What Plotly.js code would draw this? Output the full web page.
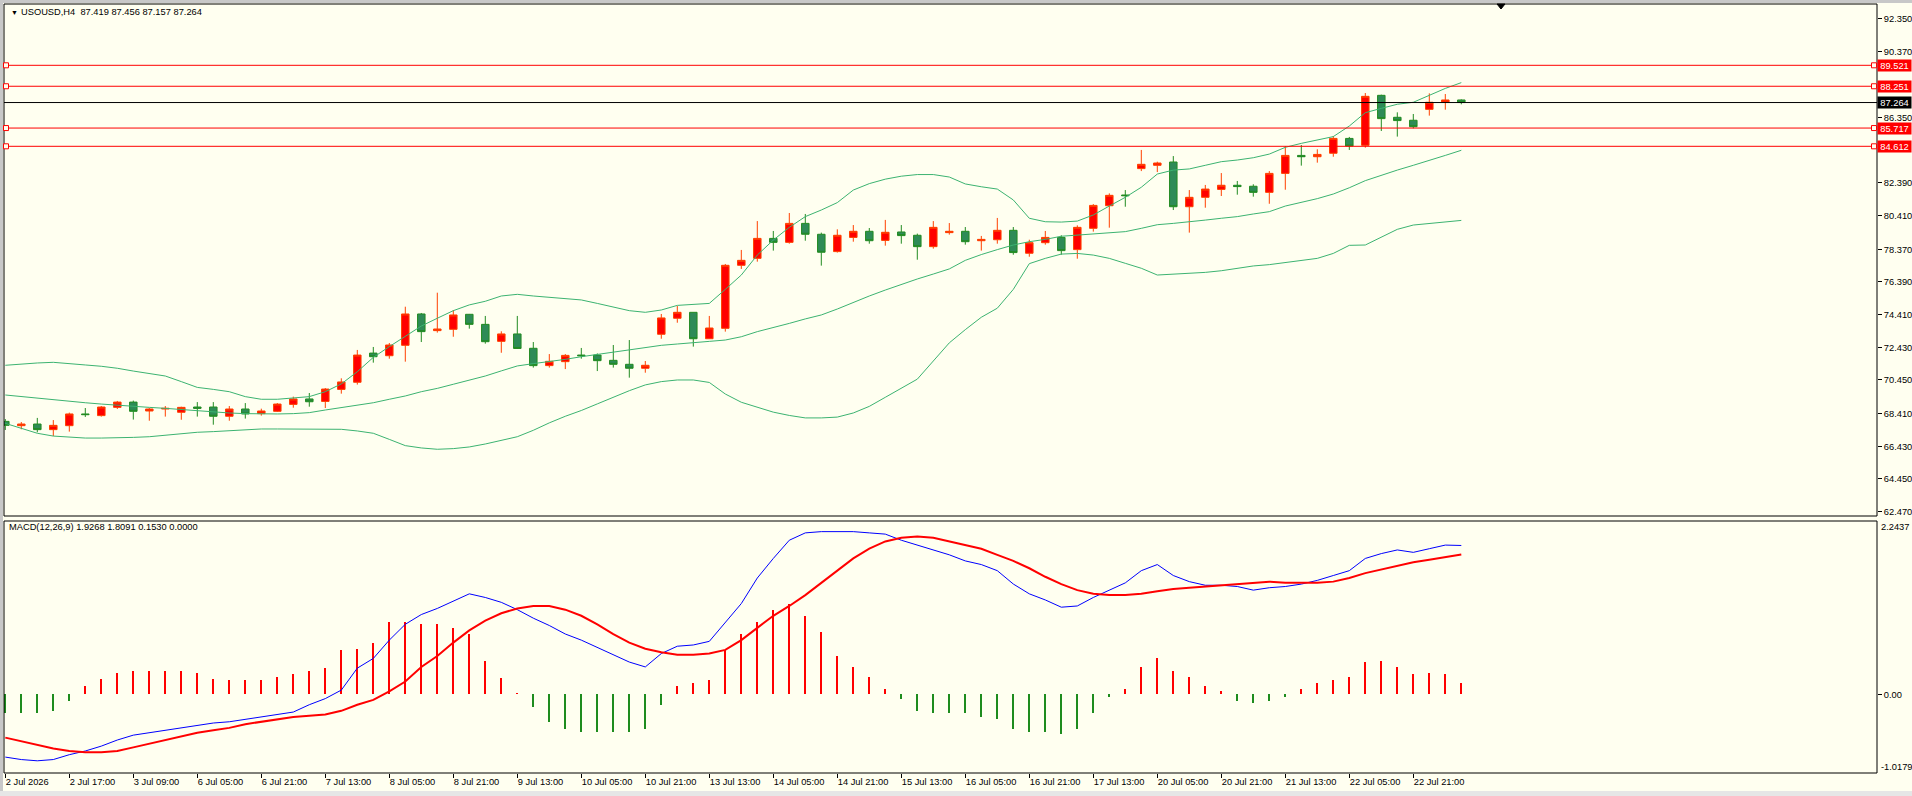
<!DOCTYPE html>
<html>
<head>
<meta charset="utf-8">
<script src="https://cdn.plot.ly/plotly-3.0.1.min.js"></script>
<style>
  html, body { margin: 0; padding: 0; background: #FFFFF0; }
  #chart { width: 1912px; height: 796px; }
</style>
</head>
<body>
<div id="chart"></div>
<script>
// ---- USOUSD H4 quotes (bar 0 = 2 Jul 2026 01:00) ----
const symbolTitle = 'USOUSD,H4';
const lastQuote = ['87.419', '87.456', '87.157', '87.264'];

const openP = [
  67.94,67.68,67.78,67.44,67.68,68.39,68.29,68.79,69.11,68.57,
  68.69,68.49,68.81,68.81,68.25,68.69,68.41,68.55,68.97,69.30,
  69.15,69.88,70.31,72.08,71.92,72.55,74.45,73.44,73.52,74.43,
  73.82,72.79,73.24,72.37,71.32,71.56,71.96,71.96,71.64,71.40,
  71.16,73.22,74.19,74.55,72.95,73.58,77.40,77.82,79.03,78.79,
  79.94,79.28,78.23,79.09,79.46,78.91,79.42,79.22,78.53,79.38,
  79.46,78.89,78.95,79.52,78.13,78.77,79.09,78.35,79.64,81.01,
  81.66,83.26,83.46,83.66,80.95,81.52,82.00,82.25,82.19,81.82,
  82.97,84.06,83.98,84.19,85.09,84.67,87.70,86.37,86.19,86.85,
  87.28,87.419
];
const highP = [
  68.08,67.90,68.15,68.02,68.47,68.75,68.87,69.18,69.20,68.75,
  68.87,68.83,69.11,69.11,68.87,69.05,68.71,69.05,69.44,69.66,
  69.96,70.55,72.27,72.45,72.69,74.89,74.51,75.74,74.69,74.45,
  74.33,73.40,74.33,72.75,72.02,72.02,72.39,72.06,72.57,72.87,
  71.60,74.45,74.93,74.55,74.33,77.48,78.33,80.08,79.48,80.57,
  80.51,79.38,79.58,79.84,79.66,80.15,79.84,79.32,80.08,79.96,
  79.72,79.18,80.27,79.72,78.95,79.48,79.22,79.82,81.11,81.76,
  81.96,84.39,83.68,84.02,81.96,82.27,82.99,82.51,82.31,83.11,
  84.63,84.69,84.43,85.24,85.18,87.84,87.74,86.67,86.57,87.82,
  87.78,87.456
];
const lowP = [
  67.42,67.46,67.28,67.05,67.32,68.21,68.23,68.69,68.05,67.98,
  68.23,68.04,68.23,67.74,67.98,68.11,68.29,68.51,68.77,68.83,
  68.75,69.62,70.17,71.50,71.74,71.56,72.75,73.32,73.07,73.56,
  72.65,72.10,72.33,71.20,71.20,71.11,71.74,70.99,71.20,70.59,
  70.89,72.95,73.92,72.47,72.95,73.38,77.18,77.62,78.29,78.71,
  78.89,77.38,78.17,78.83,78.71,78.59,78.71,77.74,78.41,79.26,
  78.65,78.29,78.71,78.04,77.92,78.65,78.04,77.80,79.44,79.68,
  80.95,83.11,83.05,80.75,79.38,80.89,81.60,81.68,81.56,81.13,
  81.98,83.44,83.62,83.98,84.39,84.53,85.54,85.20,85.70,86.47,
  86.83,87.157
];
const closeP = [
  67.70,67.78,67.44,67.70,68.39,68.35,68.81,69.11,68.55,68.69,
  68.73,68.79,68.73,68.25,68.69,68.39,68.57,68.99,69.30,69.13,
  69.90,70.33,71.96,71.86,72.57,74.45,73.38,73.54,74.39,73.82,
  72.77,73.24,72.36,71.32,71.58,71.94,71.92,71.62,71.40,71.16,
  71.34,74.21,74.55,72.95,73.60,77.40,77.70,79.03,78.79,79.94,
  79.28,78.19,79.22,79.46,78.89,79.40,79.20,78.53,79.70,79.46,
  78.83,78.97,79.52,78.17,78.77,79.09,78.29,79.70,81.03,81.64,
  81.62,83.52,83.60,80.95,81.52,82.02,82.25,82.17,81.82,82.97,
  84.06,83.98,84.12,85.09,84.63,87.64,86.29,86.17,85.80,87.28,
  87.42,87.264
];

// Bollinger Bands (20, 2)
const bbUpper = [
  71.34,71.42,71.48,71.52,71.46,71.36,71.28,71.16,70.99,70.85,
  70.69,70.35,70.00,69.88,69.74,69.44,69.28,69.28,69.34,69.44,
  69.74,70.21,70.95,71.82,72.47,73.11,73.72,74.19,74.65,75.00,
  75.22,75.54,75.64,75.54,75.46,75.40,75.30,75.09,74.89,74.65,
  74.55,74.69,74.97,75.03,75.09,75.94,76.81,78.02,78.93,79.70,
  80.35,80.75,81.20,81.96,82.35,82.62,82.80,82.90,82.90,82.75,
  82.33,82.16,82.02,81.36,80.25,80.04,80.02,80.08,80.45,80.99,
  81.52,82.13,82.93,83.17,83.24,83.46,83.68,83.78,83.92,84.14,
  84.55,84.79,84.99,85.20,85.84,86.65,86.91,87.16,87.28,87.72,
  88.12,88.47
];
const bbMiddle = [
  69.54,69.44,69.34,69.28,69.14,69.07,68.99,68.91,68.85,68.79,
  68.73,68.65,68.57,68.51,68.45,68.41,68.39,68.39,68.41,68.47,
  68.63,68.79,68.93,69.07,69.28,69.48,69.74,69.94,70.19,70.45,
  70.69,71.00,71.30,71.44,71.56,71.70,71.86,72.00,72.14,72.27,
  72.43,72.55,72.63,72.73,72.79,72.87,73.07,73.38,73.62,73.88,
  74.15,74.39,74.75,75.16,75.54,75.90,76.25,76.57,76.87,77.18,
  77.70,78.05,78.35,78.63,78.83,78.97,79.16,79.24,79.30,79.38,
  79.44,79.64,79.86,79.94,80.06,80.14,80.25,80.35,80.51,80.65,
  80.99,81.20,81.44,81.72,82.10,82.53,82.87,83.17,83.46,83.74,
  84.06,84.37
];
const bbLower = [
  67.82,67.52,67.22,67.05,66.97,66.93,66.93,66.93,66.97,67.01,
  67.11,67.22,67.28,67.32,67.38,67.46,67.48,67.48,67.48,67.50,
  67.50,67.46,67.36,67.22,66.85,66.47,66.33,66.25,66.29,66.39,
  66.57,66.81,67.01,67.40,67.85,68.25,68.60,69.00,69.40,69.80,
  70.15,70.35,70.45,70.45,70.30,69.60,69.10,68.80,68.50,68.30,
  68.15,68.15,68.20,68.45,68.85,69.40,69.95,70.50,71.60,72.70,
  73.50,74.25,74.80,75.94,77.50,77.82,78.08,78.12,78.02,77.82,
  77.52,77.22,76.81,76.85,76.91,76.97,77.07,77.22,77.36,77.44,
  77.56,77.72,77.82,78.12,78.61,78.63,79.13,79.58,79.84,79.94,
  80.04,80.12
];

// MACD (12, 26, 9)
const macdMain = [
  -0.812,-0.844,-0.860,-0.844,-0.781,-0.733,-0.670,-0.591,-0.528,-0.497,
  -0.465,-0.434,-0.402,-0.371,-0.355,-0.323,-0.292,-0.260,-0.229,-0.134,
  -0.055,0.055,0.339,0.465,0.702,0.907,1.033,1.112,1.207,1.301,
  1.254,1.191,1.096,0.986,0.891,0.781,0.702,0.607,0.513,0.418,
  0.355,0.528,0.623,0.639,0.686,0.938,1.175,1.506,1.759,1.995,
  2.090,2.106,2.106,2.106,2.090,2.074,1.995,1.932,1.869,1.806,
  1.727,1.680,1.601,1.428,1.301,1.222,1.128,1.144,1.254,1.349,
  1.443,1.601,1.680,1.538,1.459,1.412,1.412,1.396,1.349,1.380,
  1.396,1.427,1.475,1.538,1.601,1.759,1.822,1.869,1.838,1.885,
  1.932,1.9268
];
const macdSignal = [
  -0.560,-0.607,-0.655,-0.702,-0.733,-0.749,-0.749,-0.733,-0.686,-0.639,
  -0.591,-0.544,-0.497,-0.465,-0.434,-0.386,-0.355,-0.323,-0.292,-0.276,
  -0.260,-0.213,-0.134,-0.071,0.039,0.166,0.355,0.497,0.670,0.828,
  0.954,1.049,1.112,1.144,1.144,1.096,1.017,0.907,0.781,0.670,
  0.591,0.544,0.513,0.513,0.528,0.576,0.702,0.860,1.017,1.144,
  1.285,1.443,1.601,1.759,1.885,1.979,2.027,2.043,2.027,1.979,
  1.932,1.885,1.806,1.727,1.632,1.522,1.427,1.349,1.301,1.285,
  1.285,1.301,1.333,1.364,1.380,1.396,1.412,1.427,1.443,1.459,
  1.443,1.443,1.443,1.459,1.506,1.569,1.617,1.664,1.711,1.743,
  1.774,1.8091
];
const macdHist = [
  -0.244,-0.244,-0.244,-0.213,-0.087,0.103,0.197,0.276,0.308,0.308,
  0.308,0.308,0.276,0.197,0.181,0.181,0.181,0.229,0.260,0.308,
  0.339,0.576,0.591,0.670,0.938,0.938,0.907,0.907,0.860,0.781,
  0.434,0.213,0.024,-0.166,-0.355,-0.450,-0.481,-0.481,-0.481,-0.481,
  -0.450,-0.134,0.103,0.150,0.181,0.576,0.781,0.938,1.096,1.175,
  1.017,0.812,0.497,0.355,0.229,0.071,-0.055,-0.213,-0.244,-0.244,
  -0.244,-0.292,-0.323,-0.450,-0.481,-0.481,-0.513,-0.450,-0.244,-0.039,
  0.071,0.355,0.465,0.308,0.229,0.103,0.039,-0.087,-0.118,-0.087,
  -0.039,0.071,0.150,0.181,0.229,0.418,0.434,0.355,0.260,0.276,
  0.260,0.1530
];
const macdLegend = 'MACD(12,26,9) 1.9268 1.8091 0.1530 0.0000';
const macdMax = 2.2437, macdMin = -1.0179;

// horizontal price levels
const levelPrices = [89.521, 88.251, 85.717, 84.612];
const bidPrice = 87.264;

// time axis labels, one every 4 bars
const timeLabels = [
  '2 Jul 2026','2 Jul 17:00','3 Jul 09:00','6 Jul 05:00','6 Jul 21:00','7 Jul 13:00',
  '8 Jul 05:00','8 Jul 21:00','9 Jul 13:00','10 Jul 05:00','10 Jul 21:00','13 Jul 13:00',
  '14 Jul 05:00','14 Jul 21:00','15 Jul 13:00','16 Jul 05:00','16 Jul 21:00','17 Jul 13:00',
  '20 Jul 05:00','20 Jul 21:00','21 Jul 13:00','22 Jul 05:00','22 Jul 21:00'
];
const labelStep = 4;
const priceTicks = [92.35, 90.37, 86.35, 82.39, 80.41, 78.37, 76.39, 74.41, 72.43, 70.45, 68.41, 66.43, 64.45, 62.47];

// ---- geometry ----
const W = 1912, H = 796;
const M = { l: 4, r: 35, t: 4, b: 23 };
const plotW = W - M.l - M.r, plotH = H - M.t - M.b;
const px = x => (x - M.l) / plotW;          // pixel column -> paper x
const py = y => (H - M.b - y) / plotH;      // pixel row -> paper y
const mainDomain = [py(516), 1];
const macdDomain = [0, py(521)];
const barPx = 16;

const bg = '#FFFFF0';
const font = { family: 'Liberation Sans, Arial, sans-serif', size: 9.3, color: '#000000' };
const xs = openP.map((_, i) => i);

const traces = [
  { type: 'scatter', mode: 'lines', x: xs, y: bbUpper, xaxis: 'x', yaxis: 'y',
    line: { color: '#3CB371', width: 1 }, hoverinfo: 'skip' },
  { type: 'scatter', mode: 'lines', x: xs, y: bbMiddle, xaxis: 'x', yaxis: 'y',
    line: { color: '#3CB371', width: 1 }, hoverinfo: 'skip' },
  { type: 'scatter', mode: 'lines', x: xs, y: bbLower, xaxis: 'x', yaxis: 'y',
    line: { color: '#3CB371', width: 1 }, hoverinfo: 'skip' },
  { type: 'candlestick', x: xs, open: openP, high: highP, low: lowP, close: closeP,
    xaxis: 'x', yaxis: 'y', whiskerwidth: 0, hoverinfo: 'skip',
    increasing: { line: { color: '#FF4000', width: 1 }, fillcolor: '#FF0000' },
    decreasing: { line: { color: '#228B22', width: 1 }, fillcolor: '#2E8B57' } },
  { type: 'bar', x: xs, y: macdHist, xaxis: 'x', yaxis: 'y2', width: 0.11,
    marker: { color: macdHist.map(v => v >= 0 ? '#FF0000' : '#1E8C1E'), line: { width: 0 } },
    hoverinfo: 'skip' },
  { type: 'scatter', mode: 'lines', x: xs, y: macdMain, xaxis: 'x', yaxis: 'y2',
    line: { color: '#0000FF', width: 1 }, hoverinfo: 'skip' },
  { type: 'scatter', mode: 'lines', x: xs, y: macdSignal, xaxis: 'x', yaxis: 'y2',
    line: { color: '#FF0000', width: 2 }, hoverinfo: 'skip' }
];

const shapes = [];
const annotations = [];

// outer window border
shapes.push({ type: 'rect', xref: 'paper', yref: 'paper', layer: 'below',
  x0: px(0), x1: px(3), y0: py(H), y1: py(0), fillcolor: '#C8C8C8', line: { width: 0 } });
shapes.push({ type: 'rect', xref: 'paper', yref: 'paper', layer: 'below',
  x0: px(0), x1: px(W), y0: py(3), y1: py(0), fillcolor: '#C8C8C8', line: { width: 0 } });
shapes.push({ type: 'rect', xref: 'paper', yref: 'paper', layer: 'below',
  x0: px(0), x1: px(W), y0: py(H), y1: py(791), fillcolor: '#E6E6E6', line: { width: 0 } });

// pane frames
shapes.push({ type: 'rect', xref: 'paper', yref: 'paper', x0: 0, x1: 1,
  y0: mainDomain[0], y1: mainDomain[1], line: { color: '#000000', width: 1 } });
shapes.push({ type: 'rect', xref: 'paper', yref: 'paper', x0: 0, x1: 1,
  y0: macdDomain[0], y1: macdDomain[1], line: { color: '#000000', width: 1 } });

// price levels with end markers and value boxes
levelPrices.forEach(p => {
  shapes.push({ type: 'line', xref: 'paper', yref: 'y', x0: 0, x1: 1, y0: p, y1: p,
    line: { color: '#FF0000', width: 1 } });
  [px(6), px(1874)].forEach(ax => shapes.push({ type: 'rect', xref: 'paper', yref: 'y',
    xsizemode: 'pixel', ysizemode: 'pixel', xanchor: ax, yanchor: p,
    x0: -2.5, x1: 2.5, y0: -2.5, y1: 2.5, fillcolor: bg, line: { color: '#FF0000', width: 1 } }));
  annotations.push({ xref: 'paper', yref: 'y', x: 1, y: p, xanchor: 'left', yanchor: 'middle',
    text: p.toFixed(3), showarrow: false, bgcolor: '#FF0000', width: 33, height: 11,
    borderpad: 0, font: Object.assign({}, font, { color: '#FFFFFF' }) });
});
shapes.push({ type: 'line', xref: 'paper', yref: 'y', x0: 0, x1: 1, y0: bidPrice, y1: bidPrice,
  line: { color: '#000000', width: 1 } });
annotations.push({ xref: 'paper', yref: 'y', x: 1, y: bidPrice, xanchor: 'left', yanchor: 'middle',
  text: bidPrice.toFixed(3), showarrow: false, bgcolor: '#000000', width: 33, height: 11,
  borderpad: 0, font: Object.assign({}, font, { color: '#FFFFFF' }) });

// chart shift marker at the top
const tx = px(1501), tw = 4 / plotW;
shapes.push({ type: 'path', xref: 'paper', yref: 'paper',
  path: `M ${tx - tw} ${py(4)} L ${tx + tw} ${py(4)} L ${tx} ${py(9)} Z`,
  fillcolor: '#000000', line: { color: '#000000', width: 1 } });

// header texts
annotations.push({ xref: 'paper', yref: 'paper', x: px(9), y: py(12), xanchor: 'left', yanchor: 'middle',
  text: '▼', showarrow: false, font: Object.assign({}, font, { size: 7 }) });
annotations.push({ xref: 'paper', yref: 'paper', x: px(19), y: py(12), xanchor: 'left', yanchor: 'middle',
  text: symbolTitle + '\u00a0\u00a0' + lastQuote.join(' '), showarrow: false, font: font });
annotations.push({ xref: 'paper', yref: 'paper', x: px(7), y: py(527), xanchor: 'left', yanchor: 'middle',
  text: macdLegend, showarrow: false, font: font });
annotations.push({ xref: 'paper', yref: 'paper', x: 1, xshift: 2, y: py(527), xanchor: 'left', yanchor: 'middle',
  text: macdMax.toFixed(4), showarrow: false, font: font });
annotations.push({ xref: 'paper', yref: 'paper', x: 1, xshift: 2, y: py(767), xanchor: 'left', yanchor: 'middle',
  text: macdMin.toFixed(4), showarrow: false, font: font });

const x0 = -1.3 / barPx;
const layout = {
  width: W, height: H,
  margin: M,
  paper_bgcolor: bg, plot_bgcolor: bg,
  showlegend: false,
  font: font,
  boxgap: 0.33,
  bargap: 0,
  xaxis: {
    domain: [0, 1], anchor: 'y2', range: [x0, x0 + plotW / barPx],
    rangeslider: { visible: false },
    tickmode: 'array',
    tickvals: timeLabels.map((_, k) => k * labelStep),
    ticktext: timeLabels,
    ticks: 'outside', ticklen: 4, tickcolor: '#000000', ticklabelposition: 'outside right',
    showgrid: false, zeroline: false, showline: false, fixedrange: true,
    tickfont: font
  },
  yaxis: {
    domain: mainDomain, anchor: 'x', side: 'right',
    range: [62.206, 93.236],
    tickmode: 'array', tickvals: priceTicks, ticktext: priceTicks.map(v => v.toFixed(3)),
    ticks: 'outside', ticklen: 4, tickcolor: '#000000',
    showgrid: false, zeroline: false, showline: false, tickfont: font
  },
  yaxis2: {
    domain: macdDomain, anchor: 'x', side: 'right',
    range: [macdMin, macdMax],
    tickmode: 'array', tickvals: [0], ticktext: ['0.00'],
    ticks: 'outside', ticklen: 4, tickcolor: '#000000',
    showgrid: false, zeroline: false, showline: false, tickfont: font
  },
  shapes: shapes,
  annotations: annotations
};

Plotly.newPlot('chart', traces, layout, { staticPlot: true, displayModeBar: false });
</script>
</body>
</html>
